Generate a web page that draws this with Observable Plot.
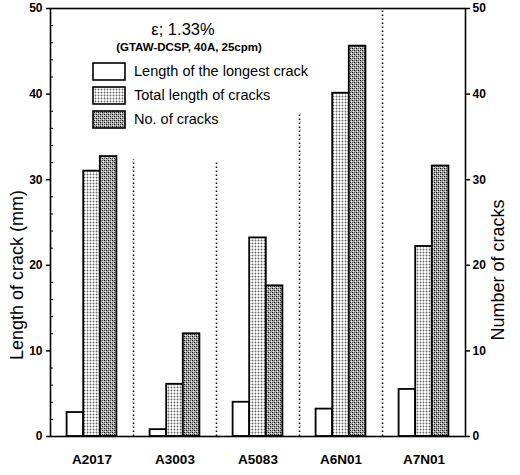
<!DOCTYPE html>
<html>
<head>
<meta charset="utf-8">
<script src="https://cdn.jsdelivr.net/npm/d3@7"></script>
<script src="https://cdn.jsdelivr.net/npm/@observablehq/plot@0.6"></script>
<style>
  body { margin: 0; background: #fff; }
  #wrap { position: relative; width: 520px; height: 475px; font-family: "Liberation Sans", Arial, sans-serif; color: #000; }
  #wrap svg.chart { display: block; }
  .ov { position: absolute; white-space: nowrap; line-height: 1; }
  #title { font-size: 16.5px; transform: translate(-50%, -50%); }
  #subtitle { font-size: 11.5px; font-weight: bold; transform: translate(-50%, -50%); }
  .ytitle { font-size: 18px; transform: translate(-50%, -50%) rotate(-90deg); }
  #legend { position: absolute; }
  .lg-row { display: flex; align-items: center; height: 24px; font-size: 14.5px; }
  .lg-row svg { margin-right: 8px; display: block; }
</style>
</head>
<body>
<svg width="0" height="0" style="position:absolute">
  <defs>
    <pattern id="patTotal" width="3" height="3" patternUnits="userSpaceOnUse">
      <rect width="3" height="3" fill="#ffffff"/>
      <rect x="0" y="0" width="1" height="3" fill="#bdbdbd"/>
      <rect x="0" y="0" width="3" height="1" fill="#c8c8c8"/>
      <rect x="0" y="0" width="1" height="1" fill="#666666"/>
    </pattern>
    <pattern id="patNum" width="4" height="4" patternUnits="userSpaceOnUse">
      <rect width="4" height="4" fill="#aaaaaa"/>
      <rect x="0" y="0" width="1" height="1" fill="#000"/>
      <rect x="2" y="2" width="1" height="1" fill="#000"/>
      <rect x="1" y="3" width="1" height="1" fill="#fff"/>
      <rect x="3" y="1" width="1" height="1" fill="#fff"/>
      <rect x="2" y="0" width="1" height="1" fill="#555"/>
      <rect x="0" y="2" width="1" height="1" fill="#555"/>
    </pattern>
  </defs>
</svg>
<div id="wrap"></div>
<script>
// ---- data ----
const alloys = ["A2017", "A3003", "A5083", "A6N01", "A7N01"];
const longestCrack = [2.8, 0.8, 4.0, 3.2, 5.5];      // mm
const totalLength = [31.0, 6.1, 23.2, 40.1, 22.2];    // mm
const numberOfCracks = [32.7, 12.0, 17.6, 45.6, 31.6];
const seriesNames = ["Length of the longest crack", "Total length of cracks", "No. of cracks"];
const separatorTops = [32.3, 32.0, 37.6, 50];         // dotted separators between groups
const yTicks = [0, 10, 20, 30, 40, 50];
const yMinorTicks = [2, 4, 6, 8, 12, 14, 16, 18, 22, 24, 26, 28, 32, 34, 36, 38, 42, 44, 46, 48];
const titleText = "ε; 1.33%";
const subtitleText = "(GTAW-DCSP, 40A, 25cpm)";
const yLeftTitle = "Length of crack (mm)";
const yRightTitle = "Number of cracks";

// ---- build tables ----
const seriesArrays = [longestCrack, totalLength, numberOfCracks];
const fills = ["#ffffff", "url(#patTotal)", "url(#patNum)"];
const rows = alloys.flatMap((a, i) => seriesArrays.map((arr, k) => ({alloy: a, i, k, value: arr[i]})));
const seps = separatorTops.map((top, j) => ({pos: j + 1, top}));
const barFrac = 0.2;

const font = "Liberation Sans, Arial, sans-serif";

const chart = Plot.plot({
  width: 520,
  height: 475,
  marginLeft: 50,
  marginRight: 55,
  marginTop: 8,
  marginBottom: 39,
  x: {type: "linear", domain: [0, alloys.length], axis: null},
  y: {domain: [0, 50], axis: null},
  style: {fontFamily: font, color: "#000", background: "#fff", overflow: "visible"},
  marks: [
    Plot.ruleX(seps, {x: "pos", y1: 0, y2: "top", stroke: "#000", strokeWidth: 1.6, strokeDasharray: "1.5 2.5"}),
    ...[0, 1, 2].map((k) =>
      Plot.rectY(rows.filter((r) => r.k === k), {
        x1: (r) => r.i + barFrac * (k + 1),
        x2: (r) => r.i + barFrac * (k + 2),
        y1: 0,
        y2: "value",
        fill: fills[k],
        stroke: "#000",
        strokeWidth: 1.8
      })
    ),
    Plot.frame({stroke: "#000", strokeWidth: 1.6}),
    Plot.axisY({anchor: "left", ticks: yTicks, tickSize: 4, tickPadding: 4, fontSize: 12, fontWeight: "bold", strokeWidth: 1.5, label: null}),
    Plot.axisY({anchor: "left", ticks: yMinorTicks, tickSize: -3, tickFormat: () => "", label: null}),
    Plot.axisY({anchor: "right", ticks: yTicks, tickSize: 4, tickPadding: 3, fontSize: 12, fontWeight: "bold", strokeWidth: 1.5, label: null}),
    Plot.axisX({ticks: alloys.map((_, i) => i + 0.5), tickFormat: (v) => alloys[Math.round(v - 0.5)], tickSize: 0, tickPadding: 18, fontSize: 13.5, fontWeight: "bold", label: null})
  ]
});
chart.classList.add("chart");

const wrap = document.getElementById("wrap");
wrap.appendChild(chart);

function overlay(id, cls, text, left, top) {
  const d = document.createElement("div");
  if (id) d.id = id;
  d.className = "ov " + (cls || "");
  d.textContent = text;
  d.style.left = left + "px";
  d.style.top = top + "px";
  wrap.appendChild(d);
  return d;
}
overlay("title", "", titleText, 183, 29);
overlay("subtitle", "", subtitleText, 189, 48);
overlay(null, "ytitle", yLeftTitle, 17, 275);
overlay(null, "ytitle", yRightTitle, 498, 270);

const legend = document.createElement("div");
legend.id = "legend";
legend.style.left = "92px";
legend.style.top = "59px";
seriesNames.forEach((name, k) => {
  const row = document.createElement("div");
  row.className = "lg-row";
  row.innerHTML = `<svg width="34" height="19"><rect x="1" y="1" width="32" height="17" fill="${fills[k]}" stroke="#000" stroke-width="1.6"/></svg><span>${name}</span>`;
  legend.appendChild(row);
});
wrap.appendChild(legend);
</script>
</body>
</html>
